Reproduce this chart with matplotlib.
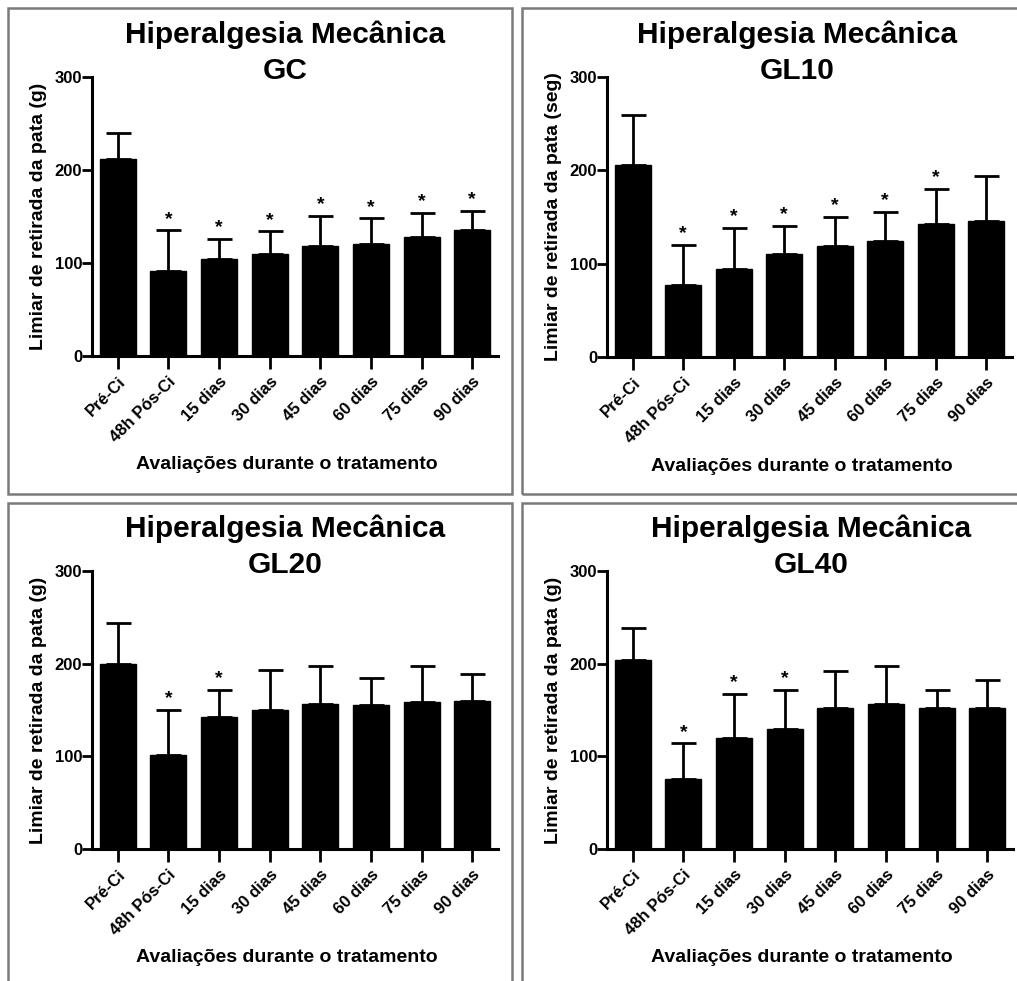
import matplotlib
matplotlib.use("Agg")
import matplotlib.pyplot as plt
from matplotlib.patches import Rectangle

plt.rcParams["font.family"] = ["Liberation Sans", "DejaVu Sans"]
plt.rcParams["font.weight"] = "bold"
plt.rcParams["axes.labelweight"] = "bold"

categorias = ["Pré-Ci", "48h Pós-Ci", "15 dias", "30 dias", "45 dias", "60 dias", "75 dias", "90 dias"]

# médias e erro (só a parte superior) de cada grupo
gc_media = [212, 91, 104, 110, 118, 120, 128, 135]
gc_erro = [28, 44, 22, 24, 33, 28, 26, 21]
gc_sig = [0, 1, 1, 1, 1, 1, 1, 1]

gl10_media = [206, 77, 94, 110, 119, 124, 143, 146]
gl10_erro = [53, 43, 44, 30, 31, 31, 37, 48]
gl10_sig = [0, 1, 1, 1, 1, 1, 1, 0]

gl20_media = [200, 101, 142, 150, 157, 155, 159, 160]
gl20_erro = [44, 49, 30, 43, 40, 30, 38, 29]
gl20_sig = [0, 1, 1, 0, 0, 0, 0, 0]

gl40_media = [204, 76, 120, 130, 152, 156, 152, 152]
gl40_erro = [35, 38, 47, 42, 40, 41, 20, 30]
gl40_sig = [0, 1, 1, 1, 0, 0, 0, 0]

W, H = 1017, 981
fig = plt.figure(figsize=(W / 100, H / 100), dpi=100)


def caixa(x0, y0, x1, y1):
    fig.patches.append(Rectangle((x0 / W, 1 - y1 / H), (x1 - x0) / W, (y1 - y0) / H,
                                 transform=fig.transFigure, fill=False,
                                 edgecolor="#7a7a7a", linewidth=1.8))


def painel(l, t, r, b, media, erro, sig, nome, ylabel, tx):
    ax = fig.add_axes([l / W, 1 - b / H, (r - l) / W, (b - t) / H])
    x = range(len(categorias))
    ax.bar(x, media, width=0.71, color="black", edgecolor="black")
    ax.errorbar(x, media, yerr=[[0] * len(media), erro], fmt="none", ecolor="black",
                elinewidth=2, capsize=9, capthick=2)
    for i, s in enumerate(sig):
        if s:
            ax.annotate("*", (i, media[i] + erro[i]), xytext=(0, 2), textcoords="offset points",
                        ha="center", va="bottom", fontsize=14)
    ax.set_xlim(-0.51, 7.51)
    ax.set_ylim(0, 300)
    ax.set_yticks([0, 100, 200, 300])
    ax.set_xticks(list(x))
    ax.set_xticklabels(categorias, rotation=45, ha="right", rotation_mode="anchor", fontsize=12)
    ax.tick_params(axis="y", length=7, width=2, labelsize=12, pad=0)
    ax.tick_params(axis="x", length=9, width=2, pad=4)
    for s in ["top", "right"]:
        ax.spines[s].set_visible(False)
    for s in ["left", "bottom"]:
        ax.spines[s].set_linewidth(2.2)
    ax.set_ylabel(ylabel, fontsize=14, va="center")
    ax.yaxis.set_label_coords(-0.133, 0.5)
    ax.set_xlabel("Avaliações durante o tratamento", fontsize=14, va="center")
    ax.xaxis.set_label_coords(((l + r) / 2 - 8 - l) / (r - l), -0.39)
    fig.text(tx / W, 1 - (t - 42) / H, "Hiperalgesia Mecânica", ha="center", va="center", fontsize=21.5)
    fig.text(tx / W, 1 - (t - 6) / H, nome, ha="center", va="center", fontsize=21.5)
    return ax


caixa(8, 8, 512, 494)
caixa(522, 8, 1030, 494)
caixa(8, 503, 512, 995)
caixa(522, 503, 1030, 995)

painel(92, 77, 498, 356, gc_media, gc_erro, gc_sig, "GC", "Limiar de retirada da pata (g)", 285)
painel(607, 77, 1012, 357, gl10_media, gl10_erro, gl10_sig, "GL10", "Limiar de retirada da pata (seg)", 797)
painel(92, 571, 498, 849, gl20_media, gl20_erro, gl20_sig, "GL20", "Limiar de retirada da pata (g)", 285)
painel(607, 571, 1013, 849, gl40_media, gl40_erro, gl40_sig, "GL40", "Limiar de retirada da pata (g)", 811)

fig.savefig("out.png", dpi=100)
